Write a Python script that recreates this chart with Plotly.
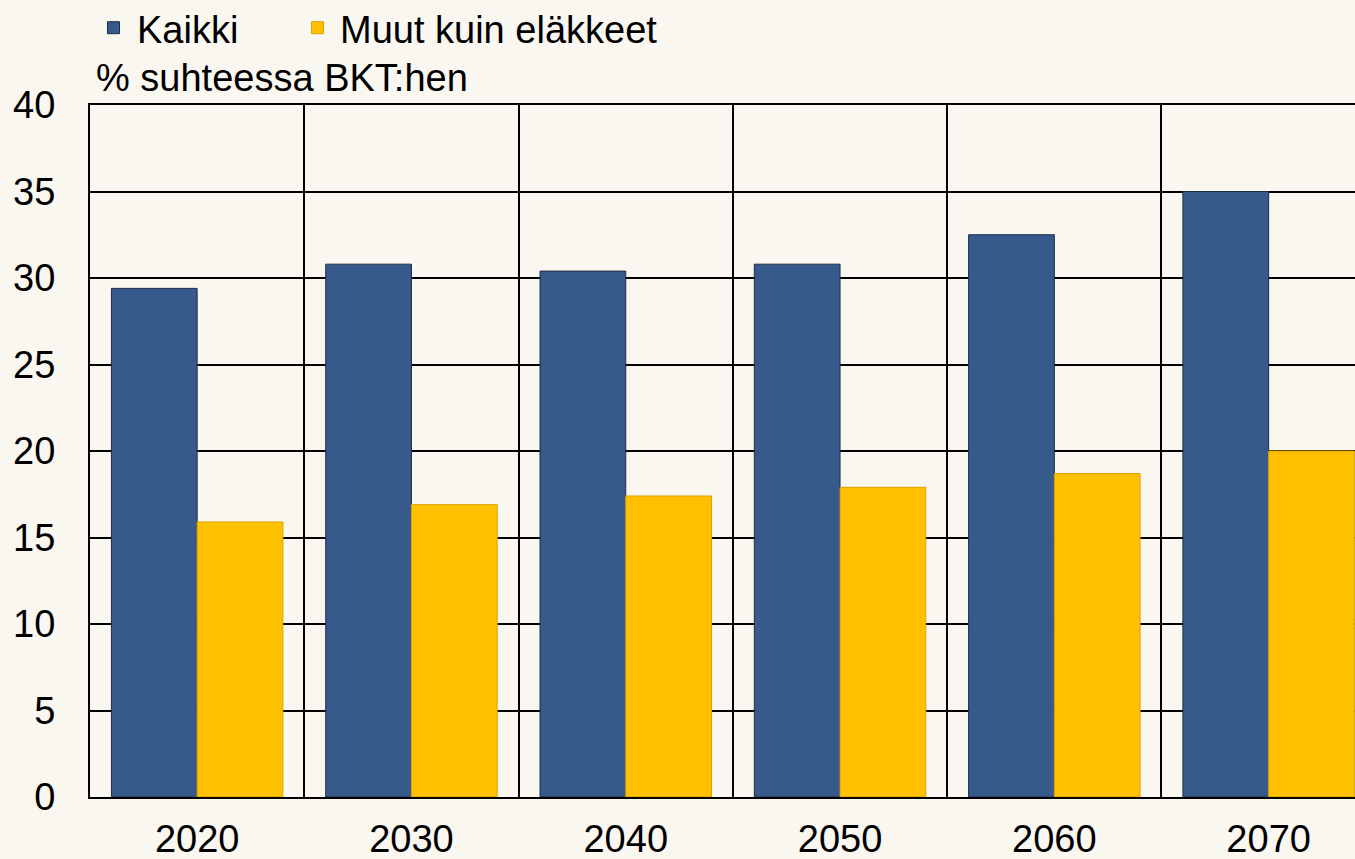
import plotly.graph_objects as go

years = ["2020", "2030", "2040", "2050", "2060", "2070"]
kaikki = [29.4, 30.8, 30.4, 30.8, 32.5, 35.0]
muut = [15.9, 16.9, 17.4, 17.9, 18.7, 20.0]
series_names = ["Kaikki", "Muut kuin eläkkeet"]
y_ticks = [0, 5, 10, 15, 20, 25, 30, 35, 40]

BLUE = "#375A8C"
YELLOW = "#FFC000"
BG = "#FAF6F0"
FONT = "Liberation Sans, Arial, sans-serif"
FS = 38

fig = go.Figure()
fig.add_trace(go.Bar(x=years, y=kaikki, name=series_names[0], legend="legend",
                     marker=dict(color=BLUE, line=dict(color="#1E2D45", width=1))))
fig.add_trace(go.Bar(x=years, y=muut, name=series_names[1], legend="legend2",
                     marker=dict(color=YELLOW, line=dict(color="#D9A300", width=1))))

leg_common = dict(orientation="h", xref="container", yref="container",
                  xanchor="left", yanchor="middle", y=1 - 28 / 859,
                  font=dict(size=FS, family=FONT), bgcolor="rgba(0,0,0,0)")
fig.update_layout(
    width=1355, height=859,
    paper_bgcolor=BG, plot_bgcolor=BG,
    barmode="group", bargap=0.2, bargroupgap=0,
    margin=dict(l=90, r=0, t=105, b=62, autoexpand=False),
    font=dict(family=FONT, size=FS, color="#000000"),
    legend=dict(leg_common, x=90 / 1355, itemwidth=37),
    legend2=dict(leg_common, x=295 / 1355, itemwidth=35),
    showlegend=True,
)
fig.update_xaxes(
    type="category", range=[-0.5, 5.403], automargin=False,
    tickson="boundaries", showgrid=True, gridcolor="#000000", gridwidth=2,
    showline=True, mirror=True, linecolor="#000000", linewidth=2,
    ticks="", ticklabelstandoff=7, tickfont=dict(size=FS),
    zeroline=False,
)
fig.update_yaxes(
    range=[0, 40], tickvals=y_ticks, automargin=False,
    showgrid=True, gridcolor="#000000", gridwidth=2,
    showline=True, linecolor="#000000", linewidth=2, mirror=False,
    ticks="", ticklabelstandoff=25, tickfont=dict(size=FS), zeroline=False,
)
fig.add_annotation(text="% suhteessa BKT:hen", xref="paper", yref="paper",
                   x=(94 - 90) / 1265, y=1 + (105 - 78) / 692, xanchor="left", yanchor="middle",
                   showarrow=False, font=dict(size=FS, family=FONT))
fig.write_html("out.html", config={"displayModeBar": False},
               post_script="document.body.style.margin='0';")
